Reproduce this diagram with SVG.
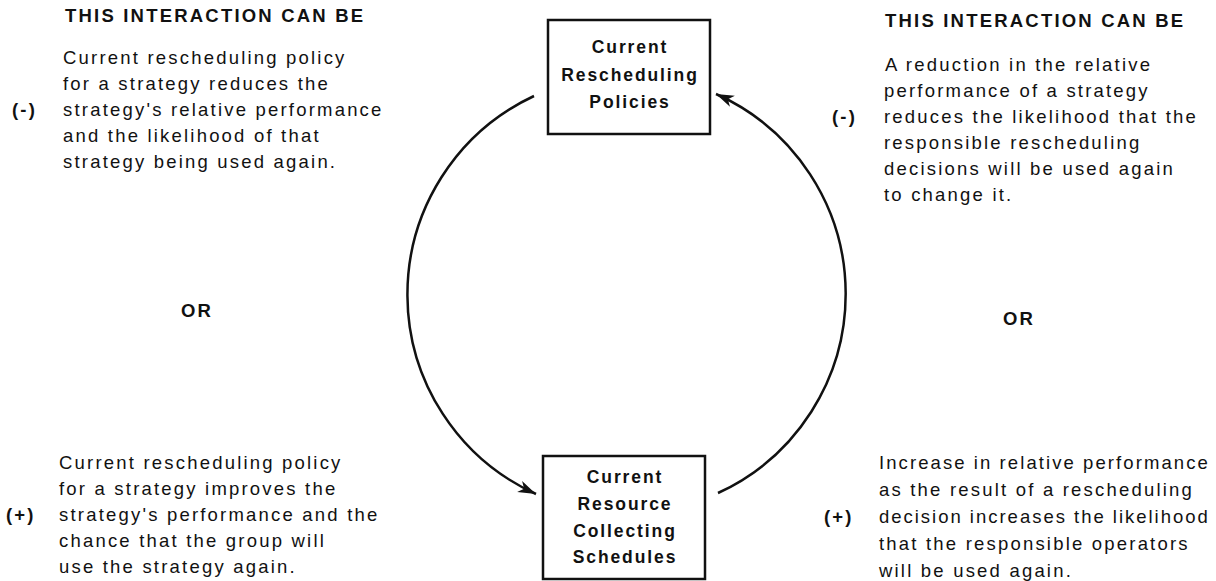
<svg xmlns="http://www.w3.org/2000/svg" width="1216" height="581" viewBox="0 0 1216 581">
<style>
.t{font-family:"Liberation Sans",Arial,sans-serif;font-size:18.5px;letter-spacing:2.2px;fill:#111}
.h{font-weight:bold}
.bx{font-family:"Liberation Sans",Arial,sans-serif;font-size:17.5px;font-weight:bold;letter-spacing:1.9px;fill:#111;text-anchor:middle}
.box{fill:#fff;stroke:#111;stroke-width:2.5}
.arc{fill:none;stroke:#111;stroke-width:2.5}
</style>
<defs>
<marker id="ah" markerUnits="userSpaceOnUse" markerWidth="22" markerHeight="14" refX="18" refY="6" orient="auto">
<path d="M0,0 L18,6 L0,12 L5,6 Z" fill="#111"/>
</marker>
</defs>
<rect width="1216" height="581" fill="#fff"/>
<g id="connectors">
<path class="arc" d="M534 96 A219 219 0 0 0 536 494" marker-end="url(#ah)"/>
<path class="arc" d="M718 493 A219 219 0 0 0 716 94" marker-end="url(#ah)"/>
</g>
<g id="node-policies">
<rect class="box" x="548" y="20" width="162" height="114"/>
<text class="bx" x="630" y="53">Current</text>
<text class="bx" x="630" y="81">Rescheduling</text>
<text class="bx" x="630" y="108">Policies</text>
</g>
<g id="node-schedules">
<rect class="box" x="543" y="456" width="162" height="123"/>
<text class="bx" x="625" y="483">Current</text>
<text class="bx" x="625" y="510">Resource</text>
<text class="bx" x="625" y="537">Collecting</text>
<text class="bx" x="625" y="563">Schedules</text>
</g>
<g id="text-top-left">
<text class="t h" x="65" y="22">THIS INTERACTION CAN BE</text>
<text class="t" x="63" y="64">Current rescheduling policy</text>
<text class="t" x="63" y="90">for a strategy reduces the</text>
<text class="t h" x="12" y="116">(-)</text>
<text class="t" x="63" y="116">strategy's relative performance</text>
<text class="t" x="63" y="142">and the likelihood of that</text>
<text class="t" x="63" y="168">strategy being used again.</text>
</g>
<g id="or-left"><text class="t h" x="181" y="317">OR</text></g>
<g id="text-bottom-left">
<text class="t" x="59" y="469">Current rescheduling policy</text>
<text class="t" x="59" y="495">for a strategy improves the</text>
<text class="t h" x="6" y="521">(+)</text>
<text class="t" x="59" y="521">strategy's performance and the</text>
<text class="t" x="59" y="547">chance that the group will</text>
<text class="t" x="59" y="573">use the strategy again.</text>
</g>
<g id="text-top-right">
<text class="t h" x="885" y="27">THIS INTERACTION CAN BE</text>
<text class="t" x="885" y="71">A reduction in the relative</text>
<text class="t" x="884" y="97">performance of a strategy</text>
<text class="t h" x="832" y="123">(-)</text>
<text class="t" x="884" y="123">reduces the likelihood that the</text>
<text class="t" x="884" y="149">responsible rescheduling</text>
<text class="t" x="884" y="175">decisions will be used again</text>
<text class="t" x="884" y="201">to change it.</text>
</g>
<g id="or-right"><text class="t h" x="1003" y="325">OR</text></g>
<g id="text-bottom-right">
<text class="t" x="879" y="469" textLength="331" lengthAdjust="spacing">Increase in relative performance</text>
<text class="t" x="879" y="496">as the result of a rescheduling</text>
<text class="t h" x="824" y="523">(+)</text>
<text class="t" x="879" y="523" textLength="331" lengthAdjust="spacing">decision increases the likelihood</text>
<text class="t" x="879" y="550">that the responsible operators</text>
<text class="t" x="879" y="577">will be used again.</text>
</g>
</svg>
